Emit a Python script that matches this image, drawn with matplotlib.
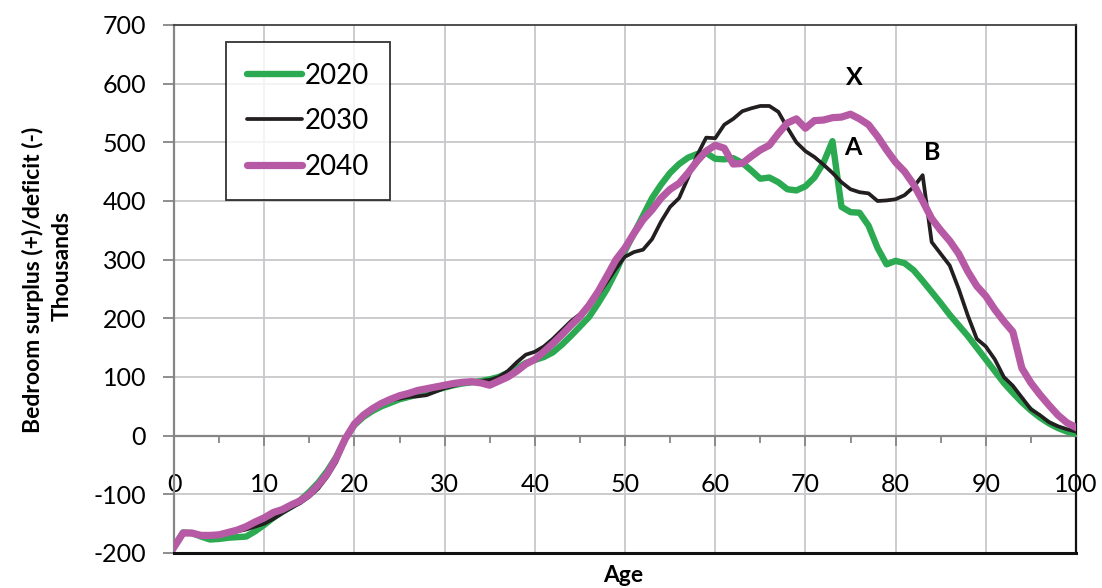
import matplotlib
matplotlib.use("Agg")
import matplotlib.pyplot as plt
import numpy as np

ages = list(range(0, 101))

y2020 = [-190, -165, -166, -172, -177, -176, -174, -173, -172, -163,
         -152, -140, -130, -121, -110, -96, -80, -60, -36, -5,
         18, 32, 42, 50, 56, 62, 66, 70, 74, 78,
         82, 86, 89, 91, 93, 96, 100, 107, 115, 124,
         129, 134, 142, 155, 170, 186, 202, 225, 250, 280,
         315, 345, 375, 405, 428, 448, 463, 474, 480, 482,
         472, 471, 473, 465, 452, 438, 440, 432, 420, 418,
         425, 440, 465, 502, 390, 381, 380, 358, 320, 292,
         298, 294, 282, 264, 245, 226, 206, 188, 170, 150,
         130, 110, 90, 73, 57, 43, 31, 21, 13, 7, 3]

y2030 = [-190, -165, -167, -170, -170, -170, -167, -163, -160, -155,
         -150, -142, -132, -123, -115, -104, -90, -70, -45, -8,
         20, 37, 45, 53, 60, 63, 66, 67, 69, 75,
         81, 85, 90, 92, 93, 95, 100, 110, 125, 138,
         143, 152, 165, 180, 195, 207, 222, 240, 262, 285,
         305, 313, 317, 335, 365, 390, 405, 440, 478, 508,
         507, 530, 540, 553, 558, 562, 562, 552, 525, 500,
         485, 475, 462, 448, 432, 420, 415, 413, 400, 401,
         403, 410, 424, 444, 330, 310, 290, 250, 205, 165,
         152, 130, 100, 85, 65, 45, 35, 23, 16, 11, 7]

y2040 = [-190, -166, -166, -170, -170, -169, -165, -161, -155, -147,
         -140, -131, -126, -118, -111, -100, -84, -65, -38, -5,
         20, 35, 46, 55, 62, 68, 72, 77, 80, 83,
         86, 89, 91, 92, 90, 86, 93, 100, 110, 122,
         130, 143, 157, 172, 188, 203, 222, 245, 272, 300,
         320, 345, 368, 385, 405, 420, 430, 448, 468, 485,
         495, 490, 463, 464, 476, 487, 495, 515, 533, 540,
         524, 537, 538, 542, 543, 548, 540, 530, 510, 487,
         466, 450, 428, 400, 370, 350, 332, 310, 280, 255,
         238, 215, 195, 177, 115, 90, 70, 52, 35, 22, 14]

series_labels = ["2020", "2030", "2040"]
notes = ["X", "A", "B"]
note_x = [75.4, 75.3, 84.1]
note_y = [611, 492, 482]

plt.rcParams['font.family'] = ['Lato', 'DejaVu Sans']
plt.rcParams['axes.unicode_minus'] = False

fig = plt.figure(figsize=(11.02, 5.88), dpi=100)
ax = fig.add_axes([174/1102, 1-553/588, (1076-174)/1102, (553-25)/588])

ax.set_xlim(0, 100)
ax.set_ylim(-200, 700)
ax.set_xticks(np.arange(0, 101, 10))
ax.set_xticks(np.arange(5, 100, 10), minor=True)
ax.set_yticks(np.arange(-200, 701, 100))

grid_c = '#C8C8CC'
for gx in range(10, 100, 10):
    ax.axvline(gx, color=grid_c, lw=1.3, zorder=0)
for gy in range(-100, 700, 100):
    if gy != 0:
        ax.axhline(gy, color=grid_c, lw=1.3, zorder=0)

ax.plot(ages, y2020, color='#2BAA52', lw=4.6, label=series_labels[0], zorder=3,
        solid_joinstyle='round')
ax.plot(ages, y2030, color='#231F20', lw=2.7, label=series_labels[1], zorder=4,
        solid_joinstyle='round')
ax.plot(ages, y2040, color='#B65AA5', lw=5.2, label=series_labels[2], zorder=5,
        solid_joinstyle='round')

for t, nx, ny in zip(notes, note_x, note_y):
    ax.text(nx, ny, t, fontsize=18, fontweight='bold', ha='center', va='center',
            color='black', zorder=6)

ax.spines['bottom'].set_position(('data', 0))
ax.spines['bottom'].set_color('#868686')
ax.spines['bottom'].set_linewidth(1.6)
ax.spines['left'].set_color('#868686')
ax.spines['left'].set_linewidth(1.6)
ax.spines['top'].set_color('#404040')
ax.spines['top'].set_linewidth(1.3)
ax.spines['right'].set_color('#111111')
ax.spines['right'].set_linewidth(1.6)
ax.axhline(-200, color='#111111', lw=2.2, zorder=6, clip_on=False)

ax.tick_params(axis='x', which='major', direction='out', length=7, width=1.3,
               color='#868686', labelsize=18, pad=20)
ax.tick_params(axis='x', which='minor', direction='out', length=5, width=1.3,
               color='#868686')
ax.tick_params(axis='y', which='major', direction='out', length=8, width=1.3,
               color='#868686', labelsize=18, pad=12)

leg = ax.legend(loc='upper left', bbox_to_anchor=(0.0577, 0.968), borderaxespad=0,
                fontsize=20, frameon=True, fancybox=False, edgecolor='black',
                handlelength=2.0, handletextpad=0.1, labelspacing=0.7,
                borderpad=0.75)
leg.get_frame().set_linewidth(1.3)
leg.set_zorder(7)
for h in leg.get_lines():
    h.set_solid_capstyle('round')

fig.text(33/1102, 1-280/588, "Bedroom surplus (+)/deficit (-)", rotation=90,
         ha='center', va='center', fontsize=16.5, fontweight='bold')
fig.text(62/1102, 1-266/588, "Thousands", rotation=90,
         ha='center', va='center', fontsize=16.5, fontweight='bold')
fig.text(623/1102, 1-575/588, "Age", ha='center', va='center',
         fontsize=16.5, fontweight='bold')

fig.savefig("out.png", dpi=100)
